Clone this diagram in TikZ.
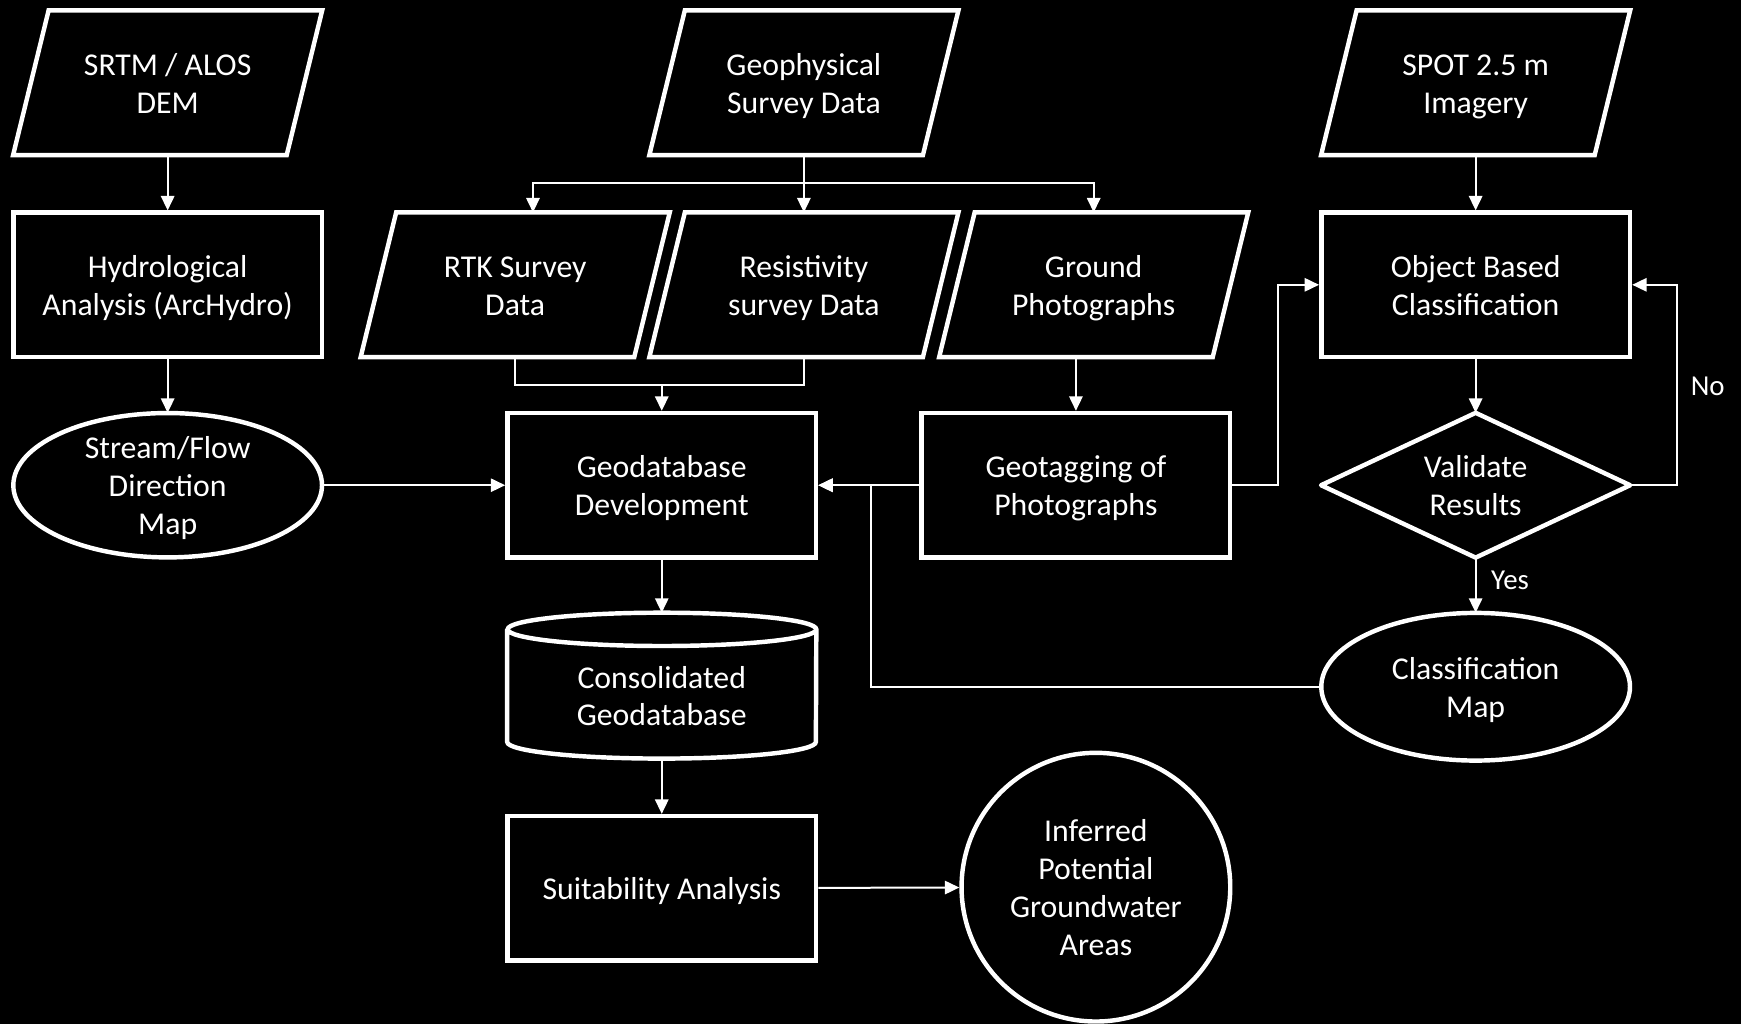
\documentclass[tikz,border=0pt]{standalone}
\usepackage{fontspec}
\setmainfont{Carlito}
\usetikzlibrary{shapes.geometric,arrows.meta,calc}
\newcommand\lt[1]{\raisebox{-3.5pt}[\height][\depth]{\begin{tabular}{@{}c@{}}#1\end{tabular}}}
\begin{document}
\begin{tikzpicture}[x=1pt,y=-1pt,
  every node/.style={text=white, font=\fontsize{28.6pt}{34pt}\selectfont, align=center},
  shapeline/.style={draw=white, line width=4pt},
  nodebox/.style={rectangle, shapeline, minimum width=278pt, minimum height=130pt, inner sep=0pt},
  iobox/.style={rectangle, minimum width=278pt, minimum height=130pt, inner sep=0pt},
  conn/.style={draw=white, line width=1.8pt, -{Triangle[length=13pt,width=12pt]}},
  link/.style={draw=white, line width=1.8pt},
  lbl/.style={font=\fontsize{26pt}{30pt}\selectfont}
]
\useasboundingbox (0,0) rectangle (1568,922);
\fill[black] (0,0) rectangle (1568,922);

% nodes
\node[iobox] (srtm) at (151,74.5) {\lt{SRTM / ALOS\\DEM}};
\node[iobox] (geo) at (724,74.5) {\lt{Geophysical\\Survey Data}};
\node[iobox] (spot) at (1329,74.5) {\lt{SPOT 2.5 m\\Imagery}};
\node[nodebox] (hydro) at (151,256.5) {\lt{Hydrological\\Analysis (ArcHydro)}};
\node[iobox] (rtk) at (464,256.5) {\lt{RTK Survey\\Data}};
\node[iobox] (res) at (724,256.5) {\lt{Resistivity\\survey Data}};
\node[iobox] (gp) at (985,256.5) {\lt{Ground\\Photographs}};
\node[nodebox] (obc) at (1329,256.5) {\lt{Object Based\\Classification}};
\node[iobox] (stream) at (151,437) {\lt{Stream/Flow\\Direction\\Map}};
\node[nodebox] (gdb) at (596,437) {\lt{Geodatabase\\Development}};
\node[nodebox] (geot) at (969,437) {\lt{Geotagging of\\Photographs}};
\node[iobox] (val) at (1329,437) {\lt{Validate\\Results}};
\node[iobox, minimum height=131pt] (cons) at (596,617.5) {};
\node (consT) at (596,626.5) {\lt{Consolidated\\Geodatabase}};
\node[iobox, minimum height=133pt] (cmap) at (1329,618.5) {\lt{Classification\\Map}};
\node[nodebox] (suit) at (596,800) {\lt{Suitability Analysis}};
\node[circle, shapeline, minimum size=242pt, inner sep=0pt] (inf) at (987,799) {\lt{Inferred\\Potential\\Groundwater\\Areas}};

% shape outlines
\foreach \n in {srtm,geo,spot,rtk,res,gp}
  \draw[shapeline] ([xshift=32pt]\n.north west) -- (\n.north east) -- ([xshift=-32pt]\n.south east) -- (\n.south west) -- cycle;
\draw[shapeline, line join=round] (val.west) -- (val.north) -- (val.east) -- (val.south) -- cycle;
\draw[shapeline] (stream.center) ellipse [x radius=139pt, y radius=65pt];
\draw[shapeline] (cmap.center) ellipse [x radius=139pt, y radius=66.5pt];
\draw[shapeline] ([yshift=-15pt]cons.north west) -- ([yshift=15pt]cons.south west)
  arc[start angle=180, end angle=360, x radius=139pt, y radius=15pt]
  -- ([yshift=-15pt]cons.north east)
  arc[start angle=0, end angle=360, x radius=139pt, y radius=15pt];

% connectors
\draw[conn] (srtm) -- (hydro);
\draw[conn] (hydro) -- (stream);
\draw[conn] (stream) -- (gdb);
\draw[conn] (geot) -- (gdb);
\coordinate (split) at (724,165);
\draw[link] (geo.south) -- (split);
\draw[conn] (split) -- (res.north);
\draw[conn] (split) -| ([xshift=16pt]rtk.north);
\draw[conn] (split) -| (gp.north);
\coordinate (join) at (596,347);
\draw[link] (rtk.south) |- (join) -| (res.south);
\draw[conn] (join) -- (gdb.north);
\draw[conn] (geot.north |- gp.south) -- (geot.north);
\draw[conn] (geot.east) -- ++(41,0) |- (obc.west);
\draw[conn] (spot) -- (obc);
\draw[conn] (obc) -- (val);
\draw[conn] (val.east) -- ++(42,0) |- (obc.east);
\node[lbl] (no) at (1538,348) {No};
\draw[conn] (val.south) -- (cmap.north);
\node[lbl] (yes) at (1360,523) {Yes};
\draw[conn] (cmap.west) -| ([xshift=47pt]gdb.east) -- (gdb.east);
\draw[conn] (gdb) -- (cons);
\draw[conn] (cons) -- (suit);
\draw[conn] (suit) -- (inf);
\end{tikzpicture}
\end{document}
